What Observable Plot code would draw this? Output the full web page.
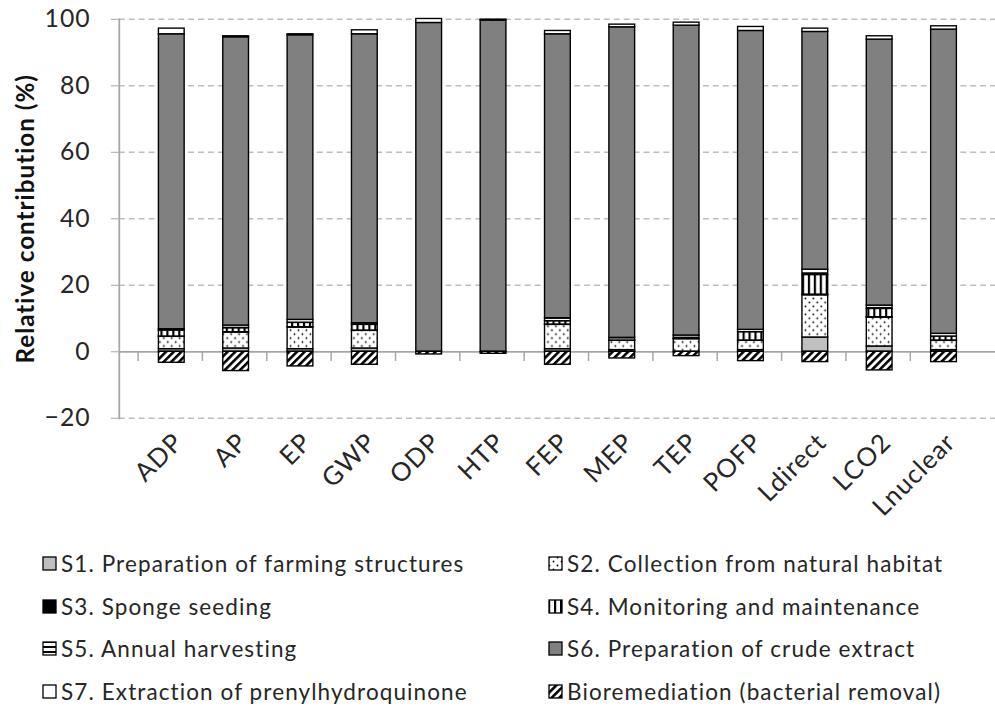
<!DOCTYPE html>
<html><head><meta charset="utf-8">
<script src="https://cdn.jsdelivr.net/npm/d3@7"></script>
<script src="https://cdn.jsdelivr.net/npm/@observablehq/plot@0.6"></script>
<style>
body{margin:0;background:#fff;font-family:Lato,"Open Sans",sans-serif;}
#wrap{width:995px;height:709px;overflow:hidden;position:relative;background:#fff;}
#chart{position:absolute;left:0;top:0;}
.item{position:absolute;display:flex;align-items:center;font-size:22.5px;letter-spacing:1.1px;color:#262626;white-space:nowrap;height:26px;}
.item svg{margin-right:4px;flex:none}
</style></head><body>
<div id="wrap"><div id="chart"></div><div id="legend"></div></div>
<script>
const categories = ["ADP","AP","EP","GWP","ODP","HTP","FEP","MEP","TEP","POFP","Ldirect","LCO2","Lnuclear"];
const seriesNames = [
  "S1. Preparation of farming structures",
  "S2. Collection from natural habitat",
  "S3. Sponge seeding",
  "S4. Monitoring and maintenance",
  "S5. Annual harvesting",
  "S6. Preparation of crude extract",
  "S7. Extraction of prenylhydroquinone",
  "Bioremediation (bacterial removal)"
];
const s1  = [0.8, 1.0, 0.8, 1.0, 0, 0, 0.8, 0.5, 0, 0.5, 4.3, 1.6, 0.5];
const s2  = [3.7, 4.8, 6.5, 5.3, 0, 0, 7.3, 2.8, 3.8, 2.8, 12.7, 8.7, 2.8];
const s3  = [0.1, 0.1, 0.1, 0.1, 0, 0, 0.1, 0.1, 0.1, 0.1, 0.2, 0.1, 0.1];
const s4  = [1.8, 1.2, 1.3, 1.7, 0, 0, 1.0, 0, 0, 2.5, 5.9, 2.5, 1.2];
const s5  = [0.4, 0.8, 0.9, 0.5, 0, 0, 0.9, 0.8, 1.0, 0.7, 1.6, 1.0, 0.8];
const s6  = [88.7, 86.7, 85.6, 86.9, 98.9, 99.6, 85.4, 93.4, 93.2, 89.9, 71.5, 80.0, 91.5];
const s7  = [1.7, 0.3, 0.3, 1.2, 1.2, 0.3, 1.0, 0.8, 0.9, 1.2, 1.0, 1.0, 1.0];
const bio = [-3.3, -5.8, -4.4, -3.9, -0.8, -0.6, -3.9, -2.0, -1.3, -2.8, -3.1, -5.6, -3.1];
const yTicks = [-20, 0, 20, 40, 60, 80, 100];
const gridTicks = [-20, 20, 40, 60, 80, 100];
const yLabel = "Relative contribution (%)";

const seriesValues = [s1, s2, s3, s4, s5, s6, s7, bio];
const fills = ["#c0c0c0","url(#pDots)","#000000","url(#pVert)","url(#pHoriz)","#808080","#ffffff","url(#pDiag)"];

const data = [];
seriesValues.forEach((vals, si) => {
  vals.forEach((v, ci) => data.push({category: categories[ci], series: seriesNames[si], value: v}));
});

const W = 1005, H = 535, mL = 120, mR = 0, mT = 19, mB = 113;
const step = (W - mL - mR) / categories.length;

const plot = Plot.plot({
  width: W, height: H,
  marginLeft: mL, marginRight: mR, marginTop: mT, marginBottom: mB,
  style: {fontFamily: "Lato, 'Open Sans', sans-serif", background: "#fff", overflow: "visible", letterSpacing: "1px"},
  x: {domain: categories, padding: 0.6, label: null},
  y: {domain: [-20, 100], label: null},
  color: {type: "ordinal", domain: seriesNames, range: fills},
  marks: [
    Plot.ruleY(gridTicks, {stroke: "#bdbdbd", strokeWidth: 1.4, strokeDasharray: "6,4"}),
    Plot.ruleX(categories, {x: d => d, y1: 0, y2: -2.9, stroke: "#a6a6a6", strokeWidth: 1.5, dx: -step / 2}),
    Plot.ruleY([0], {stroke: "#a6a6a6", strokeWidth: 1.8}),
    Plot.frame({anchor: "left", stroke: "#a6a6a6", strokeWidth: 1.8}),
    Plot.barY(data, Plot.stackY({x: "category", y: "value", fill: "series", stroke: "#000", strokeWidth: 1.4})),
    Plot.axisY({ticks: yTicks, tickSize: 8, tickPadding: 21, stroke: "#a6a6a6", fontSize: 25, color: "#262626", label: null}),
    Plot.axisX({tickRotate: -45, tickSize: 0, tickPadding: 20, dx: 7, fontSize: 26, color: "#262626", label: null}),
    Plot.text([yLabel], {frameAnchor: "left", textAnchor: "middle", rotate: -90, dx: -94, fontSize: 24.5, fontWeight: "bold", fill: "#111"})
  ]
});
document.getElementById("chart").appendChild(plot);

// pattern definitions
function addDefs(svgSel) {
  const defs = svgSel.insert("defs", ":first-child");
  const d = defs.append("pattern").attr("id", "pDots").attr("patternUnits", "userSpaceOnUse").attr("width", 8).attr("height", 8);
  d.append("rect").attr("width", 8).attr("height", 8).attr("fill", "#fff");
  d.append("circle").attr("cx", 1.5).attr("cy", 1.5).attr("r", 0.9).attr("fill", "#000");
  d.append("circle").attr("cx", 5.5).attr("cy", 5.5).attr("r", 0.9).attr("fill", "#000");
  const v = defs.append("pattern").attr("id", "pVert").attr("patternUnits", "userSpaceOnUse").attr("width", 6).attr("height", 6);
  v.append("rect").attr("width", 6).attr("height", 6).attr("fill", "#fff");
  v.append("rect").attr("width", 2.2).attr("height", 6).attr("fill", "#000");
  const h = defs.append("pattern").attr("id", "pHoriz").attr("patternUnits", "userSpaceOnUse").attr("width", 6).attr("height", 5);
  h.append("rect").attr("width", 6).attr("height", 5).attr("fill", "#fff");
  h.append("rect").attr("width", 6).attr("height", 2).attr("fill", "#000");
  const g = defs.append("pattern").attr("id", "pDiag").attr("patternUnits", "userSpaceOnUse").attr("width", 5.5).attr("height", 5.5).attr("patternTransform", "rotate(45)");
  g.append("rect").attr("width", 5.5).attr("height", 5.5).attr("fill", "#fff");
  g.append("rect").attr("width", 2.6).attr("height", 5.5).attr("fill", "#000");
}
addDefs(d3.select(plot));

// legend
const legend = document.getElementById("legend");
const rowsY = [550, 593, 635, 678];
seriesNames.forEach((name, i) => {
  const col = i % 2, row = Math.floor(i / 2);
  const item = document.createElement("div");
  item.className = "item";
  item.style.left = (col === 0 ? 42 : 548) + "px";
  item.style.top = rowsY[row] + "px";
  const sw = d3.create("svg").attr("width", 15).attr("height", 15);
  sw.append("rect").attr("x", 1).attr("y", 1).attr("width", 13).attr("height", 13)
    .attr("fill", fills[i]).attr("stroke", "#000").attr("stroke-width", 1.3);
  item.appendChild(sw.node());
  const t = document.createElement("span");
  t.textContent = name;
  item.appendChild(t);
  legend.appendChild(item);
});
</script>
</body></html>
